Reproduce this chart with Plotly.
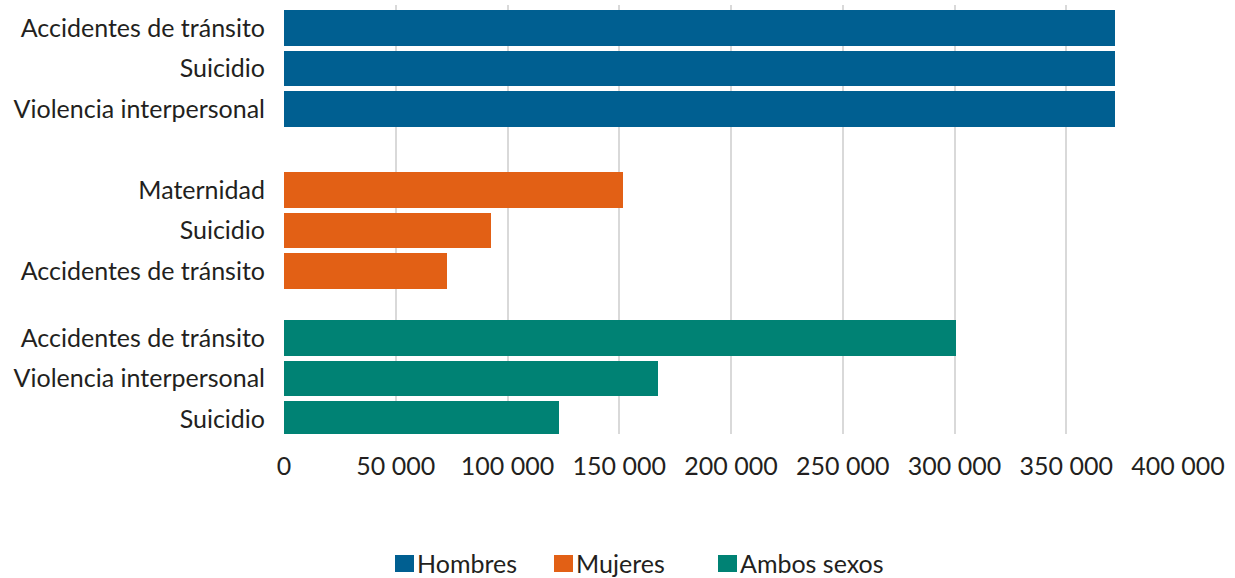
import plotly.graph_objects as go

# ---- data ----
groups = ["Hombres", "Mujeres", "Ambos sexos"]
hombres_cats = ["Accidentes de tránsito", "Suicidio", "Violencia interpersonal"]
hombres_vals = [372000, 372000, 372000]
mujeres_cats = ["Maternidad", "Suicidio", "Accidentes de tránsito"]
mujeres_vals = [151500, 92500, 73000]
ambos_cats = ["Accidentes de tránsito", "Violencia interpersonal", "Suicidio"]
ambos_vals = [300500, 167500, 123000]
x_ticks = [0, 50000, 100000, 150000, 200000, 250000, 300000, 350000, 400000]
x_ticklabels = ["0", "50 000", "100 000", "150 000", "200 000", "250 000", "300 000", "350 000", "400 000"]

colors = {"Hombres": "#005f91", "Mujeres": "#e26015", "Ambos sexos": "#008274"}
FONT = "Lato, 'Open Sans', sans-serif"
FS = 25
TXT = "#231f20"

series = [("Hombres", hombres_cats, hombres_vals),
          ("Mujeres", mujeres_cats, mujeres_vals),
          ("Ambos sexos", ambos_cats, ambos_vals)]
group_gaps = [1.0, 0.65]  # layout: empty space (in bar slots) after each group

fig = go.Figure()
tickvals, ticktext = [], []
pos = 0.0
for gi, (name, cats, vals) in enumerate(series):
    ys = []
    for c in cats:
        ys.append(pos)
        tickvals.append(pos)
        ticktext.append(c)
        pos += 1
    if gi < len(group_gaps):
        pos += group_gaps[gi]
    fig.add_trace(go.Bar(x=vals, y=ys, orientation="h", name=name,
                         marker=dict(color=colors[name], line=dict(width=0)),
                         width=0.88, showlegend=False))
last = tickvals[-1]

W, H = 1235, 578
ml, mr, mt, mb = 284, 57, 5, 144
pw, ph = W - ml - mr, H - mt - mb
slot_px = 40.5
y_top = -(27.85 - mt) / slot_px
y_bot = last + (H - mb - 419.0) / slot_px


def px2paper(px, py):
    return (px - ml) / pw, (H - mb - py) / ph

# manual legend (squares + text)
legend_items = [("Hombres", 395), ("Mujeres", 554), ("Ambos sexos", 718)]
for name, sx in legend_items:
    x0, y0 = px2paper(sx, 555)
    x1, y1 = px2paper(sx + 19, 572)
    fig.add_shape(type="rect", xref="paper", yref="paper", x0=x0, x1=x1, y0=y1, y1=y0,
                  fillcolor=colors[name], line=dict(width=0))
    tx, ty = px2paper(sx + 20, 563)
    fig.add_annotation(xref="paper", yref="paper", x=tx, y=ty, text=name, showarrow=False,
                       xanchor="left", yanchor="middle",
                       font=dict(family=FONT, size=FS, color=TXT))

fig.update_layout(
    width=W, height=H,
    margin=dict(l=ml, r=mr, t=mt, b=mb, pad=0),
    paper_bgcolor="white", plot_bgcolor="white",
    bargap=0,
    xaxis=dict(range=[0, 400000], tickvals=x_ticks, ticktext=x_ticklabels,
               showgrid=True, gridcolor="#d9d9d9", gridwidth=2,
               zeroline=False, showline=False,
               ticks="outside", ticklen=10, tickcolor="rgba(0,0,0,0)",
               tickfont=dict(family=FONT, size=FS, color=TXT)),
    yaxis=dict(range=[y_bot, y_top], tickvals=tickvals, ticktext=ticktext,
               showgrid=False, zeroline=False, showline=False,
               ticks="outside", ticklen=13, tickcolor="rgba(0,0,0,0)",
               tickfont=dict(family=FONT, size=FS, color=TXT)),
)

fig.write_html("out.html", config={"displayModeBar": False},
               post_script="document.body.style.margin='0';")
